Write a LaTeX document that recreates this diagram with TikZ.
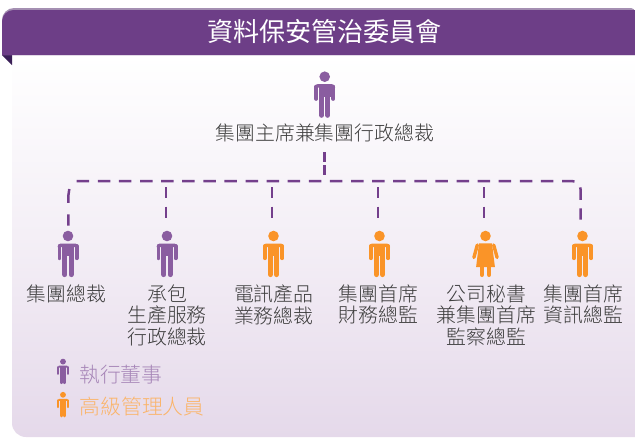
\documentclass[tikz,border=0pt]{standalone}
\usepackage{fontspec}
\newfontfamily\cjk{Noto Sans CJK TC Light}
\newfontfamily\cjkr{Noto Sans CJK TC}
\definecolor{banner}{HTML}{6D3E87}
\definecolor{bannertop}{HTML}{A48FB2}
\definecolor{fold}{HTML}{3A1F57}
\definecolor{exec}{HTML}{8A5DA0}
\definecolor{mgr}{HTML}{FA9428}
\definecolor{linec}{HTML}{743F8C}
\definecolor{panelend}{HTML}{E5D9EA}
\definecolor{txt}{HTML}{3C3C3C}
\newcommand\drawman[3]{%
\begin{scope}[shift={(#1)},x=#3pt,y=-#3pt,yshift=18pt*#3]
 \fill[#2] (0,0) circle[radius=5.3];
 \fill[#2] (-10.5,11) arc[start angle=180,end angle=270,x radius=3.2,y radius=3.5] -- (7.3,7.5) arc[start angle=270,end angle=360,x radius=3.2,y radius=3.5] -- cycle;
 \fill[#2] (-5.8,7.5) rectangle (5.8,20);
 \draw[#2,line width=#3*3.9pt,line cap=round] (-8.55,10) -- (-8.55,22.2) (8.55,10) -- (8.55,22.2);
 \draw[#2,line width=#3*5pt,line cap=round] (-3.1,18) -- (-3.1,38.6) (3.1,18) -- (3.1,38.6);
\end{scope}}
\newcommand\drawwoman[3]{%
\begin{scope}[shift={(#1)},x=#3pt,y=-#3pt,yshift=18pt*#3]
 \fill[#2] (0,0) circle[radius=5.3];
 \fill[#2] (-6.5,7.3) -- (6.5,7.3) -- (9.4,31) -- (-9.4,31) -- cycle;
 \draw[#2,line width=#3*3.4pt,line cap=round] (-8.2,9) -- (-11.6,21.5) (8.2,9) -- (11.6,21.5);
 \draw[#2,line width=#3*4.4pt,line cap=round] (-3.6,30) -- (-3.6,38.8) (3.6,30) -- (3.6,38.8);
\end{scope}}
\tikzset{
 x=1pt,y=-1pt,
 personbox/.style={minimum width=22pt,minimum height=46pt,inner sep=0pt,outer sep=0pt},
 legendbox/.style={minimum width=12pt,minimum height=25pt,inner sep=0pt,outer sep=0pt},
 label/.style={font=\cjk\fontsize{19.85}{21.3}\selectfont,text=txt,align=center,inner sep=0pt,anchor=north},
 legend/.style={font=\cjk\fontsize{20.8}{24}\selectfont,inner sep=0pt,anchor=west},
 dashline/.style={draw=linec,line width=2.5pt},
 dropdash/.style={dashline,dash pattern=on 11.3pt off 8.4pt},
}
\begin{document}
\begin{tikzpicture}
\useasboundingbox (0,0) rectangle (635,437);
\fill[white] (0,0) rectangle (635,437);
% panel
\path[top color=white,bottom color=panelend,middle color=white!55!panelend] (12,55) -- (635,55) -- (635,437) -- (26,437) arc[start angle=90,end angle=180,radius=14] -- cycle;
% banner
\fill[fold] (2,55) -- (12,55) -- (12,65) -- cycle;
\fill[bannertop] (2,55) -- (2,20) arc[start angle=180,end angle=270,radius=12] -- (631,8) arc[start angle=270,end angle=360,radius=4] -- (635,55) -- cycle;
\fill[banner] (2,55) -- (2,21.5) arc[start angle=180,end angle=270,radius=11.5] -- (635,10) -- (635,55) -- cycle;
\node[font=\cjkr\fontsize{26.1}{26}\selectfont,text=white,inner sep=0pt] (title) at (324.5,31) {資料保安管治委員會};
% people
\node[personbox] (top) at (324.7,94.7) {};
\node[personbox] (p1) at (68,254) {};
\node[personbox] (p2) at (167,254) {};
\node[personbox] (p3) at (273.5,254) {};
\node[personbox] (p4) at (379.5,254) {};
\node[personbox] (p5) at (485.5,254) {};
\node[personbox] (p6) at (582.5,254) {};
\drawman{top}{exec}{1}
\drawman{p1}{exec}{1}
\drawman{p2}{exec}{1}
\drawman{p3}{mgr}{1}
\drawman{p4}{mgr}{1}
\drawwoman{p5}{mgr}{1}
\drawman{p6}{mgr}{1}
% labels
\node[label] (ltop) at (324.8,123.5) {集團主席兼集團行政總裁};
\node[label] (l1) at (66.5,284.8) {集團總裁};
\node[label] (l2) at (167,284.8) {承包\\生產服務\\行政總裁};
\node[label] (l3) at (273.8,284.8) {電訊產品\\業務總裁};
\node[label] (l4) at (378.6,284.8) {集團首席\\財務總監};
\node[label] (l5) at (486.3,284.8) {公司秘書\\兼集團首席\\監察總監};
\node[label] (l6) at (583.6,284.8) {集團首席\\資訊總監};
% connectors
\coordinate (ttop) at (324.3,152);
\coordinate (tbot) at (324.3,174.5);
\coordinate (bstart) at (76.7,181);
\coordinate (bend) at (580.7,181);
\coordinate (rend) at (580.7,219.5);
\coordinate (lstart) at (69.3,189);
\coordinate (lmid) at (68.3,196);
\coordinate (lend) at (68.3,225.5);
\draw[dashline,dash pattern=on 9.5pt off 3.5pt] (ttop) -- (tbot);
\draw[dashline,rounded corners=9pt,dash pattern=on 12.5pt off 8.6pt] (bstart) -- (bend) -- (rend);
\draw[dashline,dash pattern=on 14pt off 11.5pt] (lstart) -- (lmid) -- (lend);
\foreach \n/\cx in {p2/166,p3/272,p4/378,p5/484}{
  \coordinate (b\n) at (\cx,187);
  \coordinate (e\n) at (\cx,218.2);
  \draw[dropdash] (b\n) -- (e\n);
}
% legend
\node[legendbox] (k1) at (63,371.5) {};
\node[legendbox] (k2) at (63,404.7) {};
\drawman{k1}{exec}{0.55}
\drawman{k2}{mgr}{0.55}
\node[legend,text=exec!75!white] (t1) at (79,374.5) {執行董事};
\node[legend,text=mgr!70!white] (t2) at (79.5,406.5) {高級管理人員};
\end{tikzpicture}
\end{document}
